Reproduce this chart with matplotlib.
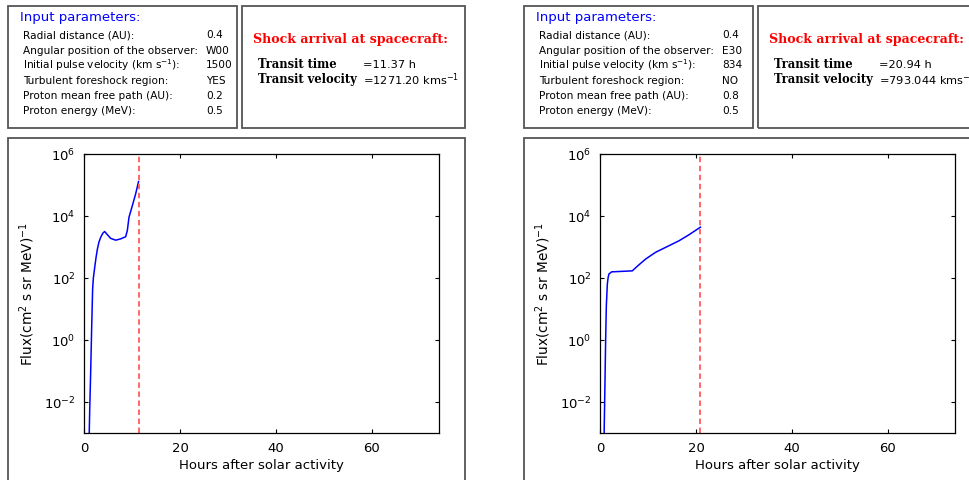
import numpy as np
import matplotlib
matplotlib.use('Agg')
import matplotlib.pyplot as plt
from matplotlib.patches import Rectangle

# data
left_hours = [1.05, 1.2, 1.39, 1.6, 1.8, 1.95, 2.2, 2.5, 2.8, 3.1, 3.47, 3.9, 4.3, 4.86,
              5.56, 6.6, 7.6, 8.68, 9.03, 9.38, 10.07, 10.76, 11.37]
left_flux = [5.0e-4, 6.3e-3, 0.091, 2.5, 45, 100, 200, 450, 870, 1410, 2040, 2750, 3160, 2510,
             1900, 1660, 1820, 2140, 3390, 9120, 21400, 51300, 129000]
left_shock = 11.37

right_hours = [0.83, 0.97, 1.18, 1.32, 1.53, 1.7, 1.875, 2.43, 3.96, 6.74, 7.78, 9.5, 11.6,
               13.7, 16.46, 18.5, 20.94]
right_flux = [5.0e-4, 0.01, 1.07, 12.6, 64.6, 105, 135, 158, 162, 170, 240, 407, 676,
              977, 1585, 2455, 4370]
right_shock = 20.94

param_labels = ['Radial distance (AU):',
                'Angular position of the observer:',
                r'Initial pulse velocity (km s$^{-1}$):',
                'Turbulent foreshock region:',
                'Proton mean free path (AU):',
                'Proton energy (MeV):']
left_values = ['0.4', 'W00', '1500', 'YES', '0.2', '0.5']
right_values = ['0.4', 'E30', '834', 'NO', '0.8', '0.5']

left_transit = ['=11.37 h', r'=1271.20 kms$^{-1}$']
right_transit = ['=20.94 h', r'=793.044 kms$^{-1}$']

W, H = 970, 481
fig = plt.figure(figsize=(W / 100, H / 100), dpi=100)
plt.rcParams['font.family'] = ['DejaVu Sans']

box_col = '#555555'


def box(x0, y0, x1, y1):
    # rectangle given in pixels, top-left origin
    r = Rectangle((x0 / W, 1 - y1 / H), (x1 - x0) / W, (y1 - y0) / H,
                  transform=fig.transFigure, fill=False, edgecolor=box_col, lw=1.3)
    fig.add_artist(r)


def txt(x, y, s, **kw):
    fig.text(x / W, 1 - y / H, s, va='center', **kw)


def panel(dx, values, transit, hours, flux, shock):
    # top boxes and plot frame
    box(8 + dx, 7, 237 + dx, 129)
    box(242 + dx, 7, 465 + dx, 129)
    box(8 + dx, 139, 465 + dx, 495)

    # input parameters
    txt(20 + dx, 18, 'Input parameters:', color='blue', fontsize=9.5)
    rows = [35, 50.5, 65.5, 80.5, 96, 111]
    for i in range(len(param_labels)):
        txt(23 + dx, rows[i], param_labels[i], fontsize=7.6)
        txt(206 + dx, rows[i], values[i], fontsize=7.6)

    # shock arrival
    txt(253 + dx, 39, 'Shock arrival at spacecraft:', color='red', fontsize=9.1,
        family='DejaVu Serif', weight='bold')
    txt(258 + dx, 65, 'Transit time', fontsize=8.3, family='DejaVu Serif', weight='bold')
    txt(258 + dx, 80, 'Transit velocity', fontsize=8.3, family='DejaVu Serif', weight='bold')
    txt(363 + dx, 65, transit[0], fontsize=8.2)
    txt(363 + dx, 80, transit[1], fontsize=8.2)

    # flux plot
    ax = fig.add_axes([(84 + dx) / W, 1 - 434 / H, 355 / W, 279 / H])
    ax.plot(hours, flux, color='blue', lw=1.1)
    ax.axvline(shock, color='#ff5a5a', lw=1.3, dashes=(3, 2))
    ax.set_yscale('log')
    ax.set_xlim(0, 74)
    ax.set_ylim(1e-3, 1e6)
    ax.set_xticks([0, 20, 40, 60])
    ax.set_yticks([1e-2, 1e0, 1e2, 1e4, 1e6])
    ax.minorticks_off()
    ax.tick_params(direction='in', top=True, right=True, length=3, width=0.8,
                   labelsize=9.5, pad=6)
    for s in ax.spines.values():
        s.set_linewidth(0.9)
    ax.set_xlabel('Hours after solar activity', fontsize=9.5, labelpad=3)
    ax.set_ylabel(r'Flux(cm$^{2}$ s sr MeV)$^{-1}$', fontsize=9.8, labelpad=5)
    return ax


panel(0, left_values, left_transit, left_hours, left_flux, left_shock)
panel(516, right_values, right_transit, right_hours, right_flux, right_shock)

fig.savefig('out.png', dpi=100)
